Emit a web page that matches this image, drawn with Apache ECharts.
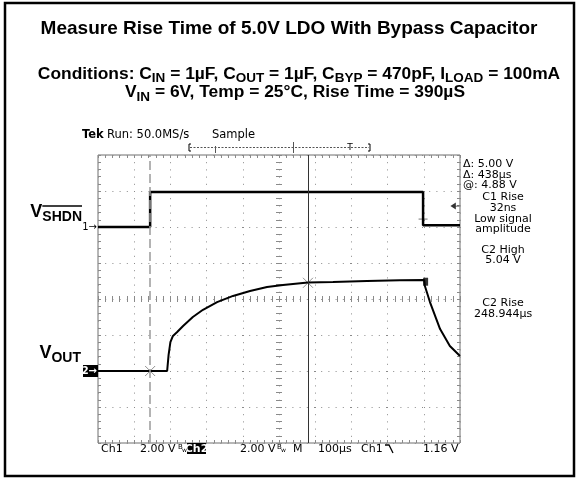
<!DOCTYPE html>
<html>
<head>
<meta charset="utf-8">
<script src="https://cdn.jsdelivr.net/npm/echarts@6/dist/echarts.min.js"></script>
<style>
  html, body { margin: 0; background: #fff; }
  #chart { width: 577px; height: 479px; }
</style>
</head>
<body>
<div id="chart"></div>
<script>
// time in µs from screen centre (100µs/div), volts per channel (2 V/div)
const ch1Time = [-500, -356, -356, 398, 398, 500];
const ch1Volt = [0, 0, 1.95, 1.95, 0.1, 0.1];

const ch2Time = [-500, -356, -309, -305, -300, -293, -282, -265, -238, -210, -171, -127, -80, -33, 11, 80, 149, 243, 334, 401, 403, 417, 445, 472, 500];
const ch2Volt = [0, 0, 0, 0.9, 1.6, 1.95, 2.15, 2.5, 3.0, 3.4, 3.83, 4.17, 4.44, 4.67, 4.78, 4.92, 4.95, 5.0, 5.04, 5.06, 4.72, 3.83, 2.33, 1.39, 0.83];

const cursorDashed = -356;
const cursorSolid = 80;
const crossTime = [-356, 80];
const crossVolt = [0, 4.9];
const edgeMarkTime = 398, edgeMarkVolt = 0.44;     // ch1 falling edge mark
const endMarkTime = 405, endMarkVolt = 4.96;       // ch2 record end block
const trigLevel = 1.16, trigMarkTime = 486;

const readoutsLeft = ['Δ: 5.00 V', 'Δ: 438µs', '@: 4.88 V'];
const readoutsCentre = [
  ['C1 Rise', 197.5], ['32ns', 208.5], ['Low signal', 219.5], ['amplitude', 229.5],
  ['C2 High', 250], ['5.04 V', 260.5], ['C2 Rise', 303], ['248.944µs', 314]
];
const statusItems = [['Ch1', 101], ['2.00 V', 140], ['2.00 V', 240], ['M', 293], ['100µs', 318], ['Ch1', 361], ['1.16 V', 423]];

const scopeFont = '"DejaVu Sans", Verdana, sans-serif';
const boldFont = '"Liberation Sans", Arial, Helvetica, sans-serif';
const gridCol = '#8a8a8a';

const chart = echarts.init(document.getElementById('chart'));

const measure = document.createElement('canvas').getContext('2d');
function widthOf(s, font) { measure.font = font; return measure.measureText(s).width; }

// text pieces with sub-scripts laid out along one baseline
function fragLine(parts, x, baseline, anchor) {
  const fonts = parts.map(p => 'bold ' + p[1] + 'px ' + boldFont);
  const widths = parts.map((p, i) => widthOf(p[0], fonts[i]));
  const total = widths.reduce((a, b) => a + b, 0);
  let cur = anchor === 'center' ? x - total / 2 : anchor === 'right' ? x - total : x;
  const out = [];
  parts.forEach((p, i) => {
    out.push({
      type: 'text', silent: true,
      style: { text: p[0], x: cur, y: baseline + p[2] - 0.35 * p[1], font: fonts[i], fill: '#000', align: 'left', verticalAlign: 'middle' }
    });
    out.push({ _w: widths[i], _x: cur });
    cur += widths[i];
  });
  return out;
}

function scopeText(text, x, y, align, extra) {
  return {
    type: 'text', silent: true,
    style: Object.assign({ text: text, x: x, y: y, font: '11px ' + scopeFont, fill: '#000', align: align || 'left', verticalAlign: 'middle' }, extra || {})
  };
}

const hiddenLabel = { show: false };
const option = {
  animation: false,
  backgroundColor: '#fff',
  grid: { left: 98, top: 155, width: 362, height: 288, show: true, borderColor: '#6e6e6e', borderWidth: 1, containLabel: false },
  xAxis: [
    { type: 'value', min: -500, max: 500, interval: 100, position: 'bottom',
      axisLine: { show: false, onZero: false }, axisLabel: hiddenLabel,
      axisTick: { show: true, inside: true, length: 3, lineStyle: { color: gridCol } },
      minorTick: { show: true, splitNumber: 5, length: 3, lineStyle: { color: gridCol } },
      splitLine: { show: true, lineStyle: { color: gridCol, width: 1, type: [1, 6.2] } } },
    { type: 'value', min: -500, max: 500, interval: 100, position: 'top',
      axisLine: { show: false, onZero: false }, axisLabel: hiddenLabel, splitLine: { show: false },
      axisTick: { show: true, inside: true, length: 3, lineStyle: { color: gridCol } },
      minorTick: { show: true, splitNumber: 5, length: 3, lineStyle: { color: gridCol } } },
    { type: 'value', min: -500, max: 500, interval: 100, position: 'bottom',
      axisLine: { show: false, onZero: true, onZeroAxisIndex: 2 }, axisLabel: hiddenLabel, splitLine: { show: false },
      axisTick: { show: true, inside: true, length: 3, lineStyle: { color: gridCol } },
      minorTick: { show: true, splitNumber: 5, length: 3, lineStyle: { color: gridCol } } },
    { type: 'value', min: -500, max: 500, interval: 100, position: 'bottom',
      axisLine: { show: false, onZero: true, onZeroAxisIndex: 2 }, axisLabel: hiddenLabel, splitLine: { show: false },
      axisTick: { show: true, inside: false, length: 3, lineStyle: { color: gridCol } },
      minorTick: { show: true, splitNumber: 5, length: 3, lineStyle: { color: gridCol } } }
  ],
  yAxis: [
    { type: 'value', min: -4, max: 12, interval: 2, position: 'left',
      axisLine: { show: false, onZero: false }, axisLabel: hiddenLabel,
      axisTick: { show: true, inside: true, length: 3, lineStyle: { color: gridCol } },
      minorTick: { show: true, splitNumber: 5, length: 3, lineStyle: { color: gridCol } },
      splitLine: { show: true, lineStyle: { color: gridCol, width: 1, type: [1, 6.2] } } },
    { type: 'value', min: -12, max: 4, interval: 2, show: false },
    { type: 'value', min: -4, max: 4, interval: 1, position: 'left',
      axisLine: { show: false, onZero: true, onZeroAxisIndex: 0 }, axisLabel: hiddenLabel, splitLine: { show: false },
      axisTick: { show: true, inside: true, length: 3, lineStyle: { color: gridCol } },
      minorTick: { show: true, splitNumber: 5, length: 3, lineStyle: { color: gridCol } } },
    { type: 'value', min: -4, max: 4, interval: 1, position: 'left',
      axisLine: { show: false, onZero: true, onZeroAxisIndex: 0 }, axisLabel: hiddenLabel, splitLine: { show: false },
      axisTick: { show: true, inside: false, length: 3, lineStyle: { color: gridCol } },
      minorTick: { show: true, splitNumber: 5, length: 3, lineStyle: { color: gridCol } } },
    { type: 'value', min: -4, max: 4, interval: 1, position: 'right',
      axisLine: { show: false, onZero: false }, axisLabel: hiddenLabel, splitLine: { show: false },
      axisTick: { show: true, inside: true, length: 3, lineStyle: { color: gridCol } },
      minorTick: { show: true, splitNumber: 5, length: 3, lineStyle: { color: gridCol } } }
  ],
  series: [
    { name: 'cursors', type: 'line', xAxisIndex: 0, yAxisIndex: 0, data: [], silent: true,
      markLine: { symbol: 'none', silent: true, label: { show: false },
        data: [
          { xAxis: cursorDashed, lineStyle: { color: '#9a9a9a', width: 1.5, type: [9, 4] } },
          { xAxis: cursorSolid, lineStyle: { color: '#333', width: 1, type: 'solid' } }
        ] } },
    { name: 'Ch1', type: 'line', xAxisIndex: 0, yAxisIndex: 1, showSymbol: false, silent: true,
      lineStyle: { color: '#000', width: 2.5 },
      data: ch1Time.map((t, i) => [t, ch1Volt[i]]) },
    { name: 'Ch2', type: 'line', xAxisIndex: 0, yAxisIndex: 0, showSymbol: false, silent: true,
      lineStyle: { color: '#000', width: 2 },
      data: ch2Time.map((t, i) => [t, ch2Volt[i]]) },
    { name: 'crosses', type: 'scatter', xAxisIndex: 0, yAxisIndex: 0, silent: true,
      symbol: 'path://M0,0L10,10M10,0L0,10', symbolSize: 10,
      itemStyle: { color: 'none', borderColor: '#777', borderWidth: 1 },
      data: crossTime.map((t, i) => [t, crossVolt[i]]) },
    { name: 'edge', type: 'scatter', xAxisIndex: 0, yAxisIndex: 1, silent: true,
      symbol: 'path://M5,0L5,10M0,5L10,5', symbolSize: 9,
      itemStyle: { color: 'none', borderColor: '#555', borderWidth: 1 },
      data: [[edgeMarkTime, edgeMarkVolt]] },
    { name: 'end', type: 'scatter', xAxisIndex: 0, yAxisIndex: 0, silent: true,
      symbol: 'rect', symbolSize: [5, 8], itemStyle: { color: '#000' },
      data: [[endMarkTime, endMarkVolt]] },
    { name: 'trigger', type: 'scatter', xAxisIndex: 0, yAxisIndex: 1, silent: true,
      symbol: 'path://M0,5L6,0L6,10Z M6,4.3L10,4.3L10,5.7L6,5.7Z', symbolSize: [9, 7],
      itemStyle: { color: '#000' },
      data: [[trigMarkTime, trigLevel]] }
  ]
};
chart.setOption(option);

// decorations placed against the channel ground levels
const ch1Ground = chart.convertToPixel({ yAxisIndex: 1 }, 0);
const ch2Ground = chart.convertToPixel({ yAxisIndex: 0 }, 0);

const g = [];
g.push({ type: 'rect', silent: true, shape: { x: 5, y: 3, width: 569, height: 473 }, style: { fill: 'none', stroke: '#000', lineWidth: 2.5 } });

g.push(...fragLine([['Measure Rise Time of 5.0V LDO With Bypass Capacitor', 19, 0]], 289, 35, 'center'));
g.push(...fragLine([
  ['Conditions: C', 17.4, 0], ['IN', 13.5, 3.5], [' = 1µF, C', 17.4, 0], ['OUT', 13.5, 3.5], [' = 1µF, C', 17.4, 0],
  ['BYP', 13.5, 3.5], [' = 470pF, I', 17.4, 0], ['LOAD', 13.5, 3.5], [' = 100mA', 17.4, 0]
], 299, 80, 'center'));
g.push(...fragLine([['V', 17.4, 0], ['IN', 13.5, 3.5], [' = 6V, Temp = 25°C, Rise Time = 390µS', 17.4, 0]], 295, 98.5, 'center'));

const shdn = fragLine([['V', 18, 0], ['SHDN', 14, 4]], 82, 218, 'right');
g.push(...shdn);
const sub = shdn[3];
g.push({ type: 'line', silent: true, shape: { x1: sub._x, y1: 206, x2: sub._x + sub._w, y2: 206 }, style: { stroke: '#000', lineWidth: 1.5 } });
g.push(...fragLine([['V', 18, 0], ['OUT', 14, 4]], 81, 359, 'right'));

// channel ground markers
g.push(scopeText('1→', 97, ch1Ground, 'right', { font: '10px ' + scopeFont }));
g.push({ type: 'rect', silent: true, shape: { x: 83, y: ch2Ground - 6, width: 15, height: 12 }, style: { fill: '#000' } });
g.push(scopeText('2→', 97, ch2Ground, 'right', { font: 'bold 10px ' + scopeFont, fill: '#fff' }));

// header
g.push(scopeText('Tek', 82, 135, 'left', { font: 'bold 11.5px ' + scopeFont }));
g.push(scopeText('Run: 50.0MS/s', 107, 135, 'left', { font: '11.5px ' + scopeFont }));
g.push(scopeText('Sample', 212, 135, 'left', { font: '11.5px ' + scopeFont }));
g.push({ type: 'polyline', silent: true, shape: { points: [[191, 144], [189, 144], [189, 151], [191, 151]] }, style: { stroke: '#000', fill: 'none', lineWidth: 1 } });
g.push({ type: 'polyline', silent: true, shape: { points: [[368, 144], [370, 144], [370, 151], [368, 151]] }, style: { stroke: '#000', fill: 'none', lineWidth: 1 } });
g.push({ type: 'line', silent: true, shape: { x1: 190, y1: 147.5, x2: 369, y2: 147.5 }, style: { stroke: '#555', lineWidth: 1, lineDash: [2, 1.5] } });
g.push({ type: 'line', silent: true, shape: { x1: 215.5, y1: 146, x2: 215.5, y2: 153 }, style: { stroke: '#555', lineWidth: 1 } });
g.push({ type: 'line', silent: true, shape: { x1: 293.5, y1: 142, x2: 293.5, y2: 153 }, style: { stroke: '#555', lineWidth: 1 } });
g.push(scopeText('T', 350, 148, 'center', { font: '9px ' + scopeFont }));

// readouts
readoutsLeft.forEach((s, i) => g.push(scopeText(s, 463, 164.5 + i * 10.5)));
readoutsCentre.forEach(r => g.push(scopeText(r[0], 503, r[1], 'center')));

// status line
statusItems.forEach(s => g.push(scopeText(s[0], s[1], 449)));
g.push({ type: 'rect', silent: true, shape: { x: 187, y: 443, width: 19, height: 11 }, style: { fill: '#000' } });
g.push(scopeText('Ch2', 196.5, 449, 'center', { font: 'bold 11px ' + scopeFont, fill: '#fff' }));
g.push(scopeText('B', 178, 447, 'left', { font: '7px ' + scopeFont }));
g.push(scopeText('w', 182, 450, 'left', { font: '6px ' + scopeFont }));
g.push(scopeText('B', 277, 447, 'left', { font: '7px ' + scopeFont }));
g.push(scopeText('w', 281, 450, 'left', { font: '6px ' + scopeFont }));
g.push({ type: 'polyline', silent: true, shape: { points: [[385, 445], [389, 445], [393, 453]] }, style: { stroke: '#000', fill: 'none', lineWidth: 1.3 } });

chart.setOption({ graphic: g.filter(e => e.type) });
</script>
</body>
</html>
